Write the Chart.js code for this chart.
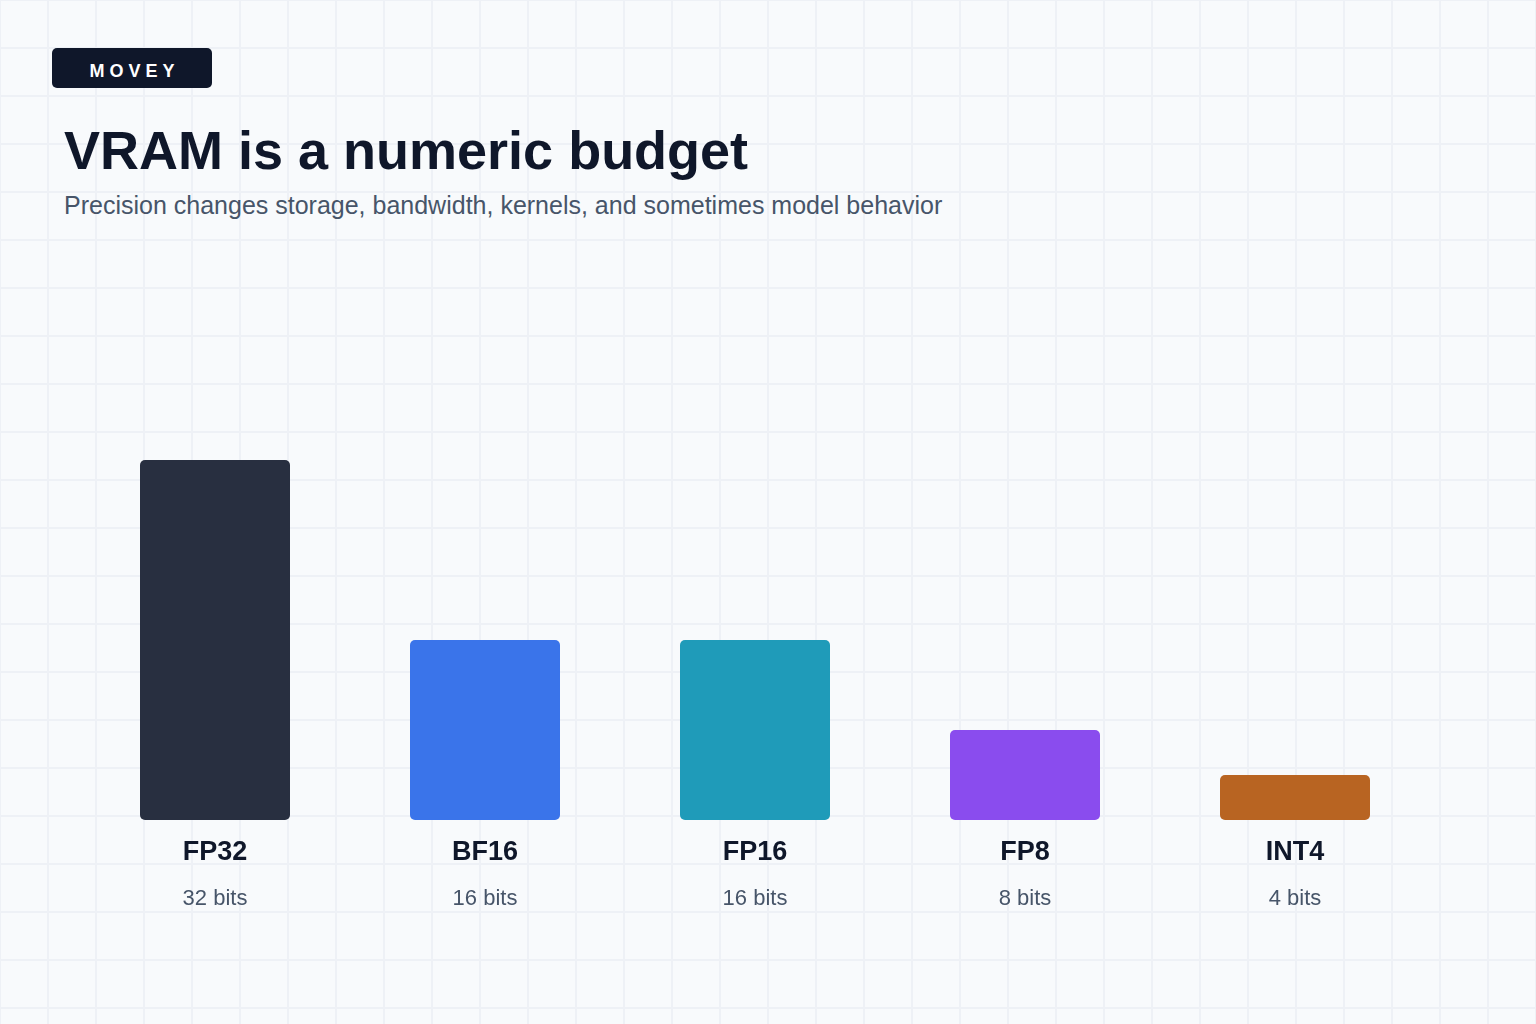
<!DOCTYPE html>
<html>
<head>
<meta charset="utf-8">
<script src="https://cdn.jsdelivr.net/npm/chart.js@4"></script>
<style>
  html, body { margin: 0; padding: 0; }
  body {
    width: 1536px;
    height: 1024px;
    overflow: hidden;
    position: relative;
    font-family: "Liberation Sans", Arial, Helvetica, sans-serif;
    background-color: #f8fafc;
    background-image:
      linear-gradient(to right, #eef1f6 0, #eef1f6 2px, transparent 2px),
      linear-gradient(to bottom, #eef1f6 0, #eef1f6 2px, transparent 2px);
    background-size: 48px 48px;
    background-position: 47px 47px;
  }
  .badge {
    position: absolute;
    left: 52px; top: 48px;
    width: 160px; height: 40px;
    background: #0f172a;
    border-radius: 5px;
  }
  .badge span {
    position: absolute;
    left: 0; right: 0; top: 0;
    line-height: 46px;
    text-align: center;
    color: #ffffff;
    font-weight: bold;
    font-size: 18px;
    letter-spacing: 5px;
    padding-left: 5px;
  }
  h1 {
    position: absolute;
    left: 64px; top: 115px;
    margin: 0;
    font-size: 54px;
    line-height: 70px;
    font-weight: bold;
    color: #0f172a;
  }
  .sub {
    position: absolute;
    left: 64px; top: 189px;
    margin: 0;
    font-size: 25px;
    line-height: 32px;
    color: #475569;
  }
  #wrap { position: absolute; left: 0; top: 0; width: 1536px; height: 1024px; }
</style>
</head>
<body>
<div class="badge"><span>MOVEY</span></div>
<h1>VRAM is a numeric budget</h1>
<p class="sub">Precision changes storage, bandwidth, kernels, and sometimes model behavior</p>
<div id="wrap"><canvas id="bits"></canvas></div>

<script>
const formats = ["FP32", "BF16", "FP16", "FP8", "INT4"];
const bitWidths = [32, 16, 16, 8, 4];
const bitLabels = ["32 bits", "16 bits", "16 bits", "8 bits", "4 bits"];
const barColors = ["#282f40", "#3a74ea", "#1f9bb9", "#8a4cee", "#b86422"];

// names + bit counts under each bar, placed with the x scale
const underLabels = {
  id: "underLabels",
  afterDatasetsDraw(chart) {
    const ctx = chart.ctx;
    const x = chart.scales.x;
    const bottom = chart.chartArea.bottom;
    ctx.save();
    ctx.textAlign = "center";
    ctx.textBaseline = "alphabetic";
    formats.forEach((name, i) => {
      const px = x.getPixelForValue(i);
      ctx.fillStyle = "#0f172a";
      ctx.font = "bold 27px 'Liberation Sans', Arial, sans-serif";
      ctx.fillText(name, px, bottom + 40);
      ctx.fillStyle = "#475569";
      ctx.font = "22px 'Liberation Sans', Arial, sans-serif";
      ctx.fillText(bitLabels[i], px, bottom + 85);
    });
    ctx.restore();
  }
};

new Chart(document.getElementById("bits"), {
  type: "bar",
  data: {
    labels: formats,
    datasets: [{
      data: bitWidths,
      backgroundColor: barColors,
      borderRadius: 5,
      borderSkipped: false,
      categoryPercentage: 150 / 270,
      barPercentage: 1
    }]
  },
  options: {
    responsive: true,
    maintainAspectRatio: false,
    animation: false,
    layout: { padding: { left: 80, right: 106, top: 370, bottom: 204 } },
    plugins: { legend: { display: false }, tooltip: { enabled: false } },
    scales: {
      x: { display: false },
      y: { display: false, min: 0, max: 40 }
    }
  },
  plugins: [underLabels]
});
</script>
</body>
</html>
